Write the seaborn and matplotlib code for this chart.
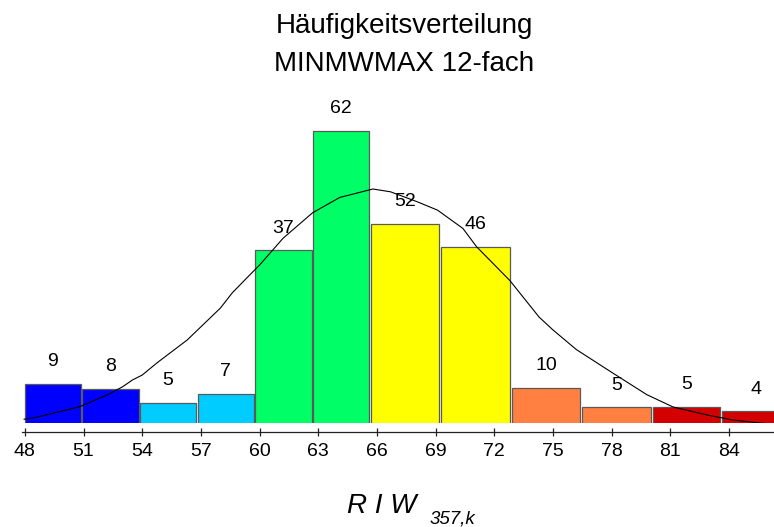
import matplotlib
matplotlib.use("Agg")
import matplotlib.pyplot as plt
import seaborn as sns
import numpy as np
import pandas as pd

# ---- data ----
bin_edges = [47.95, 50.9, 53.85, 56.8, 59.75, 62.7, 65.65, 69.25, 72.85, 76.45, 80.05, 83.6, 87.2]
counts = [9, 8, 5, 7, 37, 62, 52, 46, 10, 5, 5, 4]
bar_colors = ["#0000FF", "#0000FF", "#00CCFF", "#00CCFF", "#00FF66", "#00FF66",
              "#FFFF00", "#FFFF00", "#FF8040", "#FF8040", "#D40000", "#D40000"]
tick_values = [48, 51, 54, 57, 60, 63, 66, 69, 72, 75, 78, 81, 84]

# fitted normal curve (frequency units)
curve_x = [47.95, 48.6, 50.8, 52.2, 53.0, 53.5, 54.0, 54.75, 56.3, 58.0, 58.6, 59.5, 60.0,
           61.2, 62.7, 64.1, 65.8, 66.7, 68.05, 69.1, 70.4, 71.1, 72.8, 74.3, 75.0, 76.2,
           78.1, 79.8, 81.15, 82.9, 84.2, 85.6, 86.3]
curve_y = [0.55, 0.69, 1.44, 2.27, 2.86, 3.34, 3.69, 4.55, 6.18, 8.45, 9.52, 10.8, 11.5,
           13.4, 15.2, 16.3, 16.9, 16.7, 16.0, 15.4, 14.1, 12.8, 10.4, 7.8, 6.9, 5.5,
           3.8, 2.3, 1.42, 0.85, 0.5, 0.28, 0.21]

title_lines = ["Häufigkeitsverteilung", "MINMWMAX 12-fach"]

# ---- build frames ----
edges = np.array(bin_edges)
centers = (edges[:-1] + edges[1:]) / 2
df = pd.DataFrame({"x": centers, "n": counts})
curve_df = pd.DataFrame({"x": curve_x, "y": curve_y})

sns.set_style("white")
plt.rcParams["font.family"] = ["Liberation Sans", "DejaVu Sans"]
plt.rcParams["text.color"] = "black"
plt.rcParams["xtick.color"] = "black"
plt.rcParams["xtick.labelcolor"] = "black"

W, H = 774, 527
fig = plt.figure(figsize=(W / 100, H / 100), dpi=100)
ax = fig.add_axes([22 / W, 104 / H, 752 / W, 333 / H])

sns.histplot(data=df, x="x", weights="n", bins=bin_edges, stat="frequency",
             shrink=0.972, edgecolor="#5a5a5a", linewidth=0.9, alpha=1,
             ax=ax, legend=False)
for patch, col in zip(ax.patches, bar_colors):
    patch.set_facecolor(col)

sns.lineplot(data=curve_df, x="x", y="y", color="black", linewidth=0.8, ax=ax,
             sort=False)

# value labels
for patch, n in zip(ax.patches, counts):
    cx = patch.get_x() + patch.get_width() / 2
    ax.annotate(str(n), (cx, patch.get_height()), xytext=(0, 16), textcoords="offset points",
                ha="center", va="center", fontsize=14, color="black",
                annotation_clip=False)

ax.set_xlim(47.85, 86.31)
ax.set_ylim(0.284, 23.93)
ax.set_yticks([])
ax.set_ylabel("")
ax.set_xlabel("")
ax.set_xticks(tick_values)
ax.set_xticklabels([str(t) for t in tick_values])
ax.tick_params(axis="x", direction="inout", length=6, width=0.9, color="#222222", pad=5,
               bottom=True, labelsize=14, labelcolor="black")
for s in ["left", "right", "top"]:
    ax.spines[s].set_visible(False)
ax.spines["bottom"].set_position(("outward", 6.5))
ax.spines["bottom"].set_color("#222222")
ax.spines["bottom"].set_linewidth(0.9)

# title
fig.text(404 / W, 1 - 33 / H, title_lines[0], ha="center", va="baseline", fontsize=20,
         color="black")
fig.text(404 / W, 1 - 71 / H, title_lines[1], ha="center", va="baseline", fontsize=20,
         color="black")

# x-axis label
fig.text(382 / W, 1 - 513 / H, "R I W", ha="center", va="baseline", fontsize=20,
         style="italic", color="black")
fig.text(430 / W, 1 - 524 / H, "357,k", ha="left", va="baseline", fontsize=13.5,
         style="italic", color="black")

fig.savefig("out.png", dpi=100)
